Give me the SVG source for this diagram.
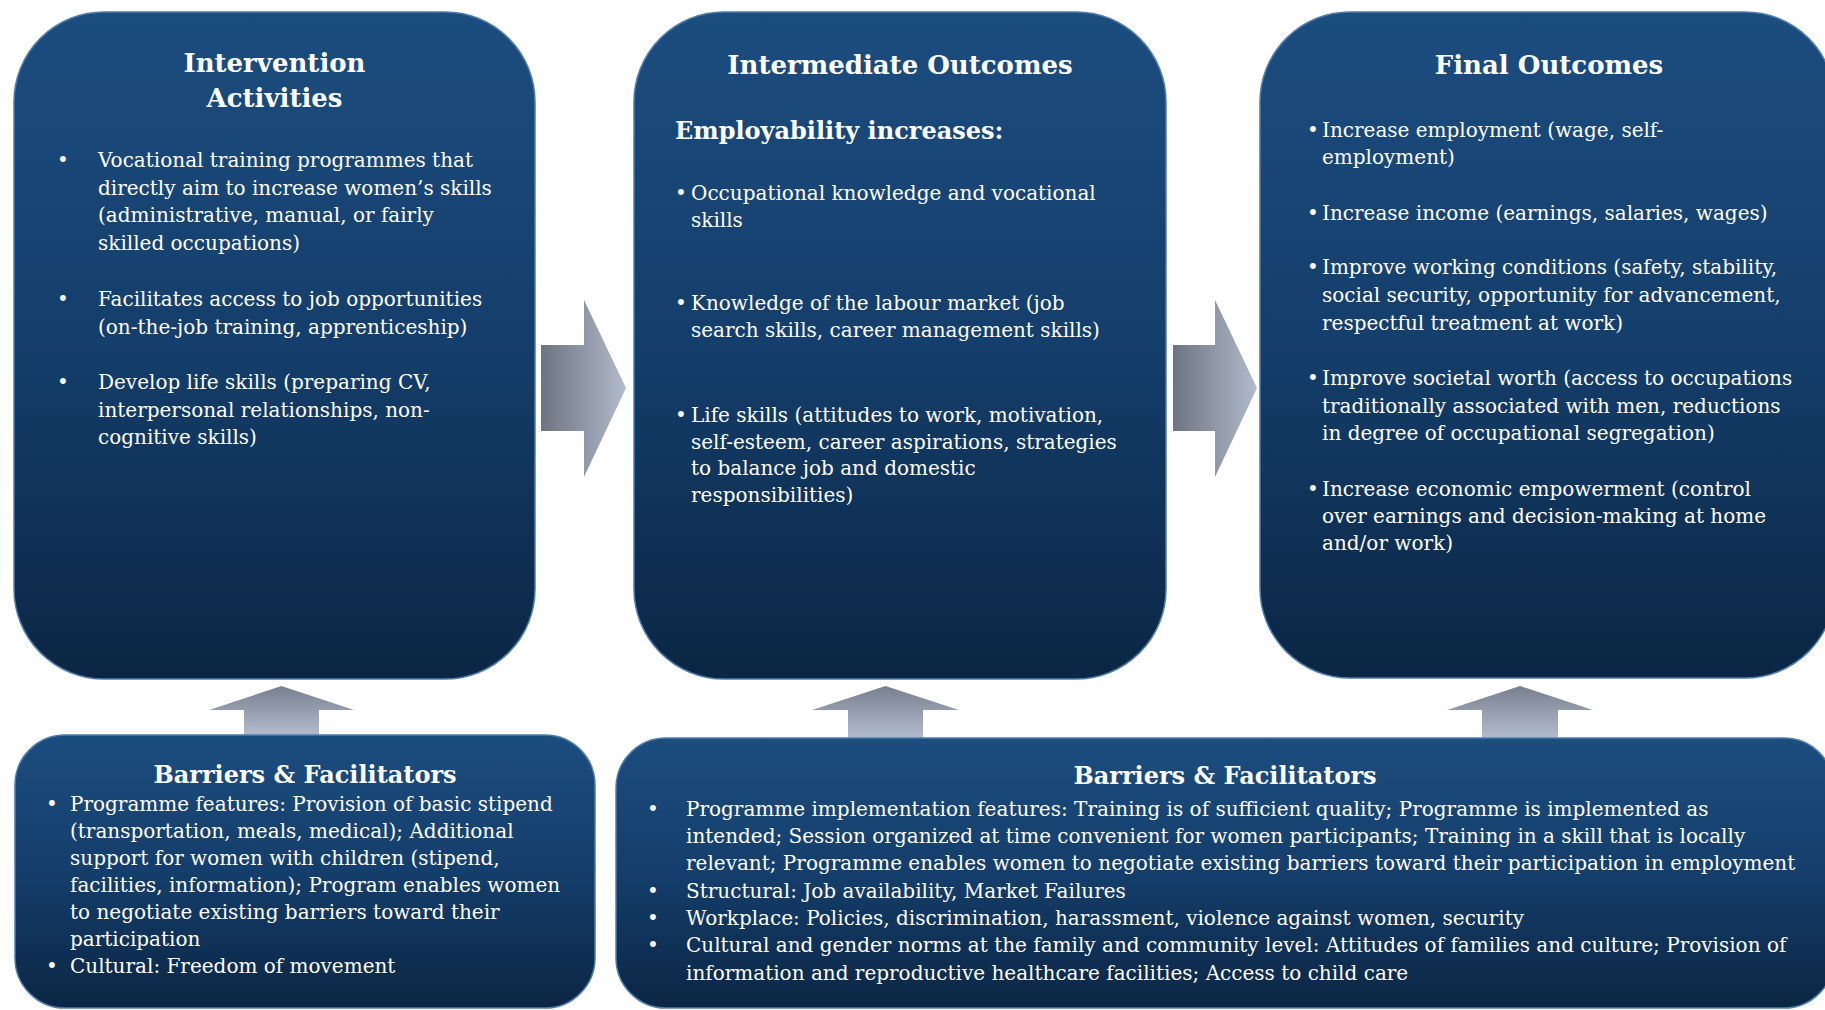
<svg xmlns="http://www.w3.org/2000/svg" width="1825" height="1010" viewBox="0 0 1825 1010">
<defs>
<linearGradient id="boxGrad" x1="0" y1="0" x2="0" y2="1">
<stop offset="0" stop-color="#1c4d7f"/>
<stop offset="0.5" stop-color="#143e6b"/>
<stop offset="1" stop-color="#0b2644"/>
</linearGradient>
<linearGradient id="rightGrad" x1="0" y1="0" x2="1" y2="0">
<stop offset="0" stop-color="#6c7481"/>
<stop offset="1" stop-color="#b2bbcb"/>
</linearGradient>
<linearGradient id="upGrad" x1="0" y1="0" x2="0" y2="1">
<stop offset="0" stop-color="#788090"/>
<stop offset="1" stop-color="#b4bdcd"/>
</linearGradient>
<style>
.box{fill:url(#boxGrad);stroke:#4f7cab;stroke-width:1.5}
.t{font-family:"DejaVu Serif","Liberation Serif",serif;font-size:20px;fill:#ffffff}
.h{font-family:"DejaVu Serif","Liberation Serif",serif;font-size:26px;font-weight:bold;fill:#ffffff;text-anchor:middle}
.h2{font-family:"DejaVu Serif","Liberation Serif",serif;font-size:24px;font-weight:bold;fill:#ffffff}
.hc{text-anchor:middle}
.ra{fill:url(#rightGrad)}
.ua{fill:url(#upGrad)}
</style>
</defs>
<rect width="1825" height="1010" fill="#ffffff"/>
<g id="connectors">
<path class="ra" d="M541,345 H584 V300 L626,388 L584,477 V431 H541 Z"/>
<path class="ra" d="M1173,345 H1215 V300 L1257,388 L1215,477 V431 H1173 Z"/>
<path class="ua" d="M244,736 V710 H209 L281.5,686 L354,710 H319 V736 Z"/>
<path class="ua" d="M848,739 V710 H812 L885.5,686 L959,710 H923 V739 Z"/>
<path class="ua" d="M1482,739 V710 H1447 L1520,686 L1593,710 H1558 V739 Z"/>
</g>
<g id="intervention">
<rect class="box" x="14" y="12" width="521" height="667" rx="90" ry="90"/>
<text class="h" x="274.5" y="72">Intervention</text>
<text class="h" x="274.5" y="107">Activities</text>
<text class="t" x="57" y="167">•</text>
<text class="t" x="98" y="167">Vocational training programmes that</text>
<text class="t" x="98" y="194.5">directly aim to increase women’s skills</text>
<text class="t" x="98" y="222">(administrative, manual, or fairly</text>
<text class="t" x="98" y="249.5">skilled occupations)</text>
<text class="t" x="57" y="306">•</text>
<text class="t" x="98" y="306">Facilitates access to job opportunities</text>
<text class="t" x="98" y="333.5">(on-the-job training, apprenticeship)</text>
<text class="t" x="57" y="389">•</text>
<text class="t" x="98" y="389">Develop life skills (preparing CV,</text>
<text class="t" x="98" y="416.5">interpersonal relationships, non-</text>
<text class="t" x="98" y="444">cognitive skills)</text>
</g>
<g id="intermediate">
<rect class="box" x="634" y="12" width="532" height="667" rx="90" ry="90"/>
<text class="h" x="900" y="74">Intermediate Outcomes</text>
<text class="h2" x="675" y="139">Employability increases:</text>
<text class="t" x="675" y="200">•</text>
<text class="t" x="691" y="200">Occupational knowledge and vocational</text>
<text class="t" x="691" y="227">skills</text>
<text class="t" x="675" y="310">•</text>
<text class="t" x="691" y="310">Knowledge of the labour market (job</text>
<text class="t" x="691" y="337">search skills, career management skills)</text>
<text class="t" x="675" y="422">•</text>
<text class="t" x="691" y="422">Life skills (attitudes to work, motivation,</text>
<text class="t" x="691" y="448.5">self-esteem, career aspirations, strategies</text>
<text class="t" x="691" y="475">to balance job and domestic</text>
<text class="t" x="691" y="502">responsibilities)</text>
</g>
<g id="final">
<rect class="box" x="1260" y="12" width="575" height="666" rx="90" ry="90"/>
<text class="h" x="1549" y="74">Final Outcomes</text>
<text class="t" x="1307" y="137">•</text>
<text class="t" x="1322" y="137">Increase employment (wage, self-</text>
<text class="t" x="1322" y="164">employment)</text>
<text class="t" x="1307" y="220">•</text>
<text class="t" x="1322" y="220">Increase income (earnings, salaries, wages)</text>
<text class="t" x="1307" y="274">•</text>
<text class="t" x="1322" y="274">Improve working conditions (safety, stability,</text>
<text class="t" x="1322" y="302">social security, opportunity for advancement,</text>
<text class="t" x="1322" y="330">respectful treatment at work)</text>
<text class="t" x="1307" y="385">•</text>
<text class="t" x="1322" y="385">Improve societal worth (access to occupations</text>
<text class="t" x="1322" y="412.5">traditionally associated with men, reductions</text>
<text class="t" x="1322" y="440">in degree of occupational segregation)</text>
<text class="t" x="1307" y="496">•</text>
<text class="t" x="1322" y="496">Increase economic empowerment (control</text>
<text class="t" x="1322" y="523">over earnings and decision-making at home</text>
<text class="t" x="1322" y="550">and/or work)</text>
</g>
<g id="barriers-left">
<rect class="box" x="15" y="735" width="580" height="273" rx="50" ry="50"/>
<text class="h2 hc" x="305" y="783">Barriers &amp; Facilitators</text>
<text class="t" x="46" y="811">•</text>
<text class="t" x="70" y="811">Programme features: Provision of basic stipend</text>
<text class="t" x="70" y="838">(transportation, meals, medical); Additional</text>
<text class="t" x="70" y="865">support for women with children (stipend,</text>
<text class="t" x="70" y="892">facilities, information); Program enables women</text>
<text class="t" x="70" y="919">to negotiate existing barriers toward their</text>
<text class="t" x="70" y="946">participation</text>
<text class="t" x="46" y="973">•</text>
<text class="t" x="70" y="973">Cultural: Freedom of movement</text>
</g>
<g id="barriers-right">
<rect class="box" x="616" y="738" width="1218" height="270" rx="50" ry="50"/>
<text class="h2 hc" x="1225" y="784">Barriers &amp; Facilitators</text>
<text class="t" x="647" y="816">•</text>
<text class="t" x="686" y="816">Programme implementation features: Training is of sufficient quality; Programme is implemented as</text>
<text class="t" x="686" y="843">intended; Session organized at time convenient for women participants; Training in a skill that is locally</text>
<text class="t" x="686" y="870">relevant; Programme enables women to negotiate existing barriers toward their participation in employment</text>
<text class="t" x="647" y="898">•</text>
<text class="t" x="686" y="898">Structural: Job availability, Market Failures</text>
<text class="t" x="647" y="925">•</text>
<text class="t" x="686" y="925">Workplace: Policies, discrimination, harassment, violence against women, security</text>
<text class="t" x="647" y="952">•</text>
<text class="t" x="686" y="952">Cultural and gender norms at the family and community level: Attitudes of families and culture; Provision of</text>
<text class="t" x="686" y="980">information and reproductive healthcare facilities; Access to child care</text>
</g>
</svg>
